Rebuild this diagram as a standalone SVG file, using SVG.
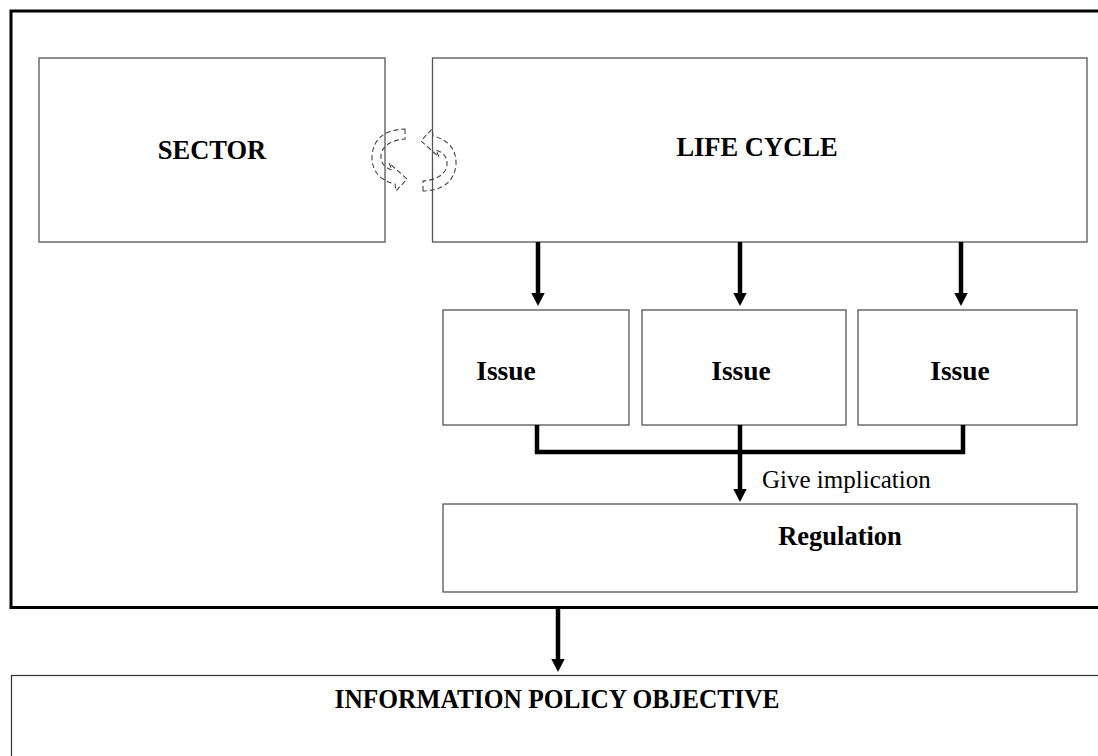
<svg xmlns="http://www.w3.org/2000/svg" width="1098" height="756" viewBox="0 0 1098 756">
<style>
.box{fill:#fff;stroke:#555;stroke-width:1.3}
.lbl{font-family:"Liberation Serif","Times New Roman",serif;font-weight:bold;font-size:26.5px;fill:#000;text-anchor:middle}
.plain{font-family:"Liberation Serif","Times New Roman",serif;font-size:25px;fill:#000}
.conn{stroke:#000;stroke-width:4.5;fill:none}
.head{fill:#000}
.cyc{fill:none;stroke:#444;stroke-width:1.1;stroke-dasharray:5 3}
</style>
<rect width="1098" height="756" fill="#fff"/>
<g id="frame">
<rect x="11" y="11" width="1100" height="596.5" fill="none" stroke="#000" stroke-width="3"/>
</g>
<g id="sector">
<rect class="box" x="39" y="58" width="346" height="184"/>
<text class="lbl" x="212" y="159">SECTOR</text>
</g>
<g id="lifecycle">
<rect class="box" x="432.5" y="58" width="654.5" height="184"/>
<text class="lbl" x="757" y="156">LIFE CYCLE</text>
</g>
<g id="issue1">
<rect class="box" x="443" y="310" width="186" height="115"/>
<text class="lbl" x="506" y="380" style="font-size:27.5px">Issue</text>
</g>
<g id="issue2">
<rect class="box" x="642" y="310" width="204" height="115"/>
<text class="lbl" x="741" y="380" style="font-size:27.5px">Issue</text>
</g>
<g id="issue3">
<rect class="box" x="858" y="310" width="219" height="115"/>
<text class="lbl" x="960" y="380" style="font-size:27.5px">Issue</text>
</g>
<g id="regulation">
<rect class="box" x="443" y="504" width="634" height="88"/>
<text class="lbl" x="840" y="545">Regulation</text>
</g>
<g id="objective">
<rect x="11.5" y="675.5" width="1100" height="100" fill="#fff" stroke="#333" stroke-width="1.2"/>
<text class="lbl" x="557" y="708" textLength="445" lengthAdjust="spacingAndGlyphs">INFORMATION POLICY OBJECTIVE</text>
</g>
<g id="cycle">
<path class="cyc" d="M405 129 L405 139 Q383 141 381 155 Q380 166 392 170 L389 163 L407 179 L396 191 L395 184 Q371 178 372 155 Q375 130 405 129 Z"/>
<path class="cyc" transform="rotate(180 414 160)" d="M405 129 L405 139 Q383 141 381 155 Q380 166 392 170 L389 163 L407 179 L396 191 L395 184 Q371 178 372 155 Q375 130 405 129 Z"/>
</g>
<g id="connectors">
<line class="conn" x1="538" y1="242" x2="538" y2="295"/>
<polygon class="head" points="531.3,293 544.7,293 538,306"/>
<line class="conn" x1="740" y1="242" x2="740" y2="295"/>
<polygon class="head" points="733.3,293 746.7,293 740,306"/>
<line class="conn" x1="961" y1="242" x2="961" y2="295"/>
<polygon class="head" points="954.3,293 967.7,293 961,306"/>
<polyline class="conn" points="537,425 537,452 963,452 963,425"/>
<line class="conn" x1="740" y1="425" x2="740" y2="491"/>
<polygon class="head" points="733.3,489 746.7,489 740,502"/>
<line class="conn" x1="558" y1="607" x2="558" y2="661"/>
<polygon class="head" points="551.3,659 564.7,659 558,672"/>
<text class="plain" x="762" y="488">Give implication</text>
</g>
</svg>
